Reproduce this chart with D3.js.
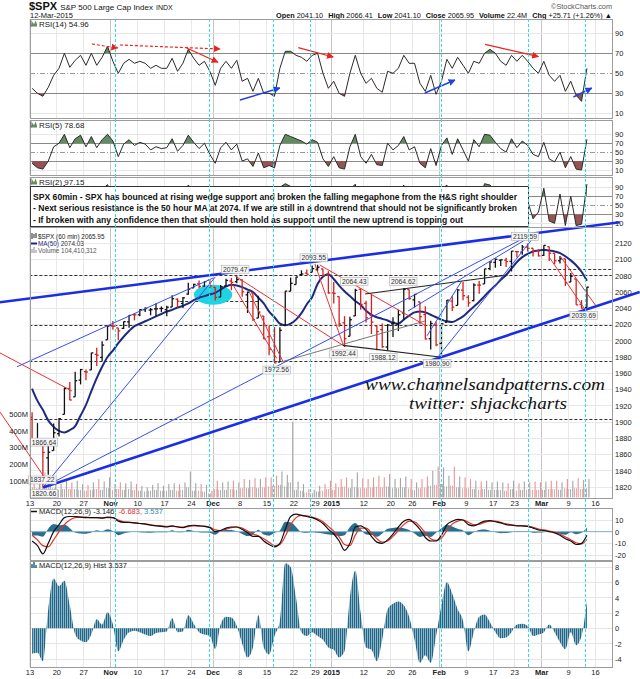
<!DOCTYPE html>
<html><head><meta charset="utf-8">
<script src="https://cdn.jsdelivr.net/npm/d3@7/dist/d3.min.js"></script>
<style>html,body{margin:0;padding:0;background:#fff}svg{display:block}</style>
</head><body>
<svg id="chart" width="640" height="679" font-family="Liberation Sans, Arial, sans-serif"></svg>
<script>
// ---------- DATA ----------
const tickIdx=[0,5,10,15,20,25,30,34,39,44,49,53,56,62,67,71,76,81,86,90,95,100,105];
const tickLab=["13","20","27","Nov","10","17","24","Dec","8","15","22","29","2015","12","20","26","Feb","9","17","23","Mar","9","16"];
const majorLab=["Nov","Dec","2015","Feb","Mar"];
const priceTicks=[1820,1840,1860,1880,1900,1920,1940,1960,1980,2000,2020,2040,2060,2080,2100,2120];
const rsiTicks=[10,30,50,70,90];
const macdTicks=[10,0,-10,-20];
const histTicks=[8,6,4,2,0,-2,-4];
const volTicks=[100,200,300,400,500];

const openP=[1905.7,1877.1,1874.2,1855.9,1864.9,1885.6,1909.4,1941.3,1931.0,1951.6,1962.0,1964.1,1983.3,1979.5,2001.2,
 2018.2,2015.8,2015.3,2023.3,2032.0,2032.0,2038.2,2037.8,2039.2,2039.7,2038.3,2041.5,2051.2,2045.9,2057.5,2065.1,2070.1,2067.4,2074.8,
 2065.8,2053.8,2067.5,2073.6,2072.8,2074.8,2056.6,2058.9,2027.9,2030.4,2005.0,1986.7,1973.8,2018.9,2061.0,2069.3,2081.5,2083.3,2084.3,2087.6,2088.5,2082.1,
 2058.9,
 2054.4,2022.2,2005.6,2030.6,2063.5,2046.1,2031.6,2018.4,2013.8,1992.3,2020.8,2020.2,2034.3,2063.0,2050.4,2047.9,2032.3,2002.5,2019.4,
 1996.7,2022.7,2048.9,2043.5,2062.3,2053.5,2049.4,2068.6,2070.0,2088.8,2096.5,2099.2,2099.3,2097.7,2109.8,2109.1,2115.3,2113.9,2110.9,
 2105.2,2115.8,2107.7,2098.5,2100.9,2072.3,2076.1,2044.7,2041.1];
const highP=[1912.1,1898.7,1874.2,1876.0,1898.2,1905.0,1942.5,1949.3,1961.9,1965.3,1964.6,1985.2,1991.4,1999.4,2018.2,
 2024.5,2016.0,2023.8,2031.6,2034.3,2038.7,2041.3,2040.3,2046.2,2042.2,2043.1,2056.1,2052.1,2053.8,2071.5,2070.2,2074.2,2073.3,2075.8,
 2065.8,2068.8,2076.3,2077.3,2079.5,2075.8,2060.6,2058.9,2055.5,2030.4,2018.7,2016.9,2016.8,2061.2,2077.9,2078.8,2086.7,2087.6,2092.7,2093.6,2088.5,2085.6,
 2072.4,
 2054.4,2030.3,2029.6,2064.1,2064.4,2049.3,2056.9,2018.4,2021.4,2020.5,2028.9,2038.3,2064.6,2063.0,2057.6,2047.9,2042.5,2024.6,2023.3,
 2021.7,2050.3,2054.7,2063.6,2072.4,2056.2,2070.9,2073.5,2088.5,2097.0,2101.3,2100.2,2102.1,2110.6,2110.1,2117.9,2119.6,2113.9,2112.7,
 2117.5,2115.8,2107.7,2104.3,2100.9,2083.5,2076.1,2050.1,2066.4];
const lowP=[1874.1,1871.8,1820.7,1835.0,1864.9,1882.3,1909.4,1926.8,1931.0,1946.3,1951.4,1964.1,1969.0,1974.8,2001.2,
 2013.7,2001.0,2014.4,2015.9,2025.1,2030.2,2035.3,2031.3,2030.4,2035.2,2030.2,2041.5,2040.4,2040.5,2056.8,2065.1,2064.8,2066.4,2065.1,
 2049.6,2053.8,2066.6,2062.3,2070.8,2054.3,2034.2,2024.3,2027.9,2002.3,1982.3,1972.6,1973.8,2018.9,2061.0,2069.3,2079.8,2081.9,2084.3,2085.8,2079.5,2057.9,
 2046.0,
 2017.3,1992.4,2005.6,2030.6,2038.3,2022.6,2008.3,1988.4,1991.5,1988.1,2004.5,2012.0,2026.4,2050.5,2041.0,2019.9,2001.5,1989.2,1993.4,
 1980.9,2022.7,2036.7,2043.5,2050.0,2041.9,2048.6,2058.0,2070.0,2086.7,2089.8,2092.2,2090.8,2085.4,2102.5,2105.9,2109.9,2103.8,2103.8,
 2104.5,2098.3,2094.5,2095.2,2067.3,2072.3,2044.2,2039.7,2041.1];
const closeP=[1874.7,1877.7,1862.5,1862.8,1886.8,1904.0,1941.3,1927.1,1950.8,1964.6,1961.6,1985.1,1982.3,1994.7,2018.1,
 2017.8,2012.1,2023.6,2031.2,2031.9,2038.3,2039.7,2038.3,2039.3,2039.8,2041.3,2051.8,2048.7,2052.8,2063.5,2069.4,2067.0,2072.8,2067.6,
 2053.4,2066.6,2074.3,2071.9,2075.4,2060.3,2059.8,2026.1,2035.3,2002.3,1989.6,1972.7,2012.9,2061.2,2070.7,2078.5,2082.2,2081.9,2088.8,2090.6,2080.4,2058.9,
 2058.2,
 2020.6,2002.6,2025.9,2062.1,2044.8,2028.3,2023.0,2011.3,1992.7,2019.4,2022.6,2032.1,2063.2,2051.8,2057.1,2029.6,2002.2,2021.3,1995.0,
 2020.9,2050.0,2041.5,2062.5,2055.5,2046.7,2068.6,2068.5,2088.5,2097.0,2100.3,2099.7,2097.5,2110.3,2109.7,2115.5,2113.9,2110.7,2104.5,
 2117.4,2107.8,2098.5,2101.0,2071.3,2079.4,2044.2,2040.2,2066.0];
const ma50=[1941,1926,1915,1902,1894,1889,1887,1890,1895,1908,1921,1938,1954,1968,1980,
 1988,1997,2005,2012,2018,2021,2024,2027,2030,2033,2036,2038,2041,2043,2046,2050,2053,2055,2057,
 2059,2063,2067,2069,2068,2066,2063,2060,2053,2046,2036,2029,2021,2019,2021,2026,2034,2045,2054,2070,2079,2082,
 2076,
 2068,2061,2055,2049,2044,2037,2032,2029,2027,2025,2022,2021,2026,2031,2035,2036,2035,2032,2029,
 2026,2024,2023,2026,2030,2036,2042,2048,2055,2062,2068,2075,2081,2089,2097,2103,2107,2110,2111,
 2112,2111,2110,2108,2104,2099,2093,2085,2074.03];
const volPeak=[95,110,150,130,110,80,100,90,100,80,75,90,110,95,120,
 80,90,85,95,80,70,60,75,85,70,80,85,80,90,155,85,80,75,40,
 100,90,95,100,90,110,105,115,110,120,120,130,155,135,453,95,80,50,45,70,80,100,
 85,
 110,120,110,150,115,110,120,130,120,140,110,115,125,110,90,110,125,160,184,
 180,130,184,125,120,110,100,95,100,90,95,90,85,100,85,95,90,95,90,
 95,100,100,90,110,100,115,105,110];
const volBase=[60,55,80,70,55,45,50,50,50,45,40,45,50,45,55,
 45,50,45,50,45,40,35,40,45,40,40,45,40,45,60,40,40,35,25,
 50,45,45,50,45,55,55,60,55,60,65,70,75,65,90,45,40,30,25,35,40,50,
 45,
 60,65,55,60,55,55,60,65,60,65,55,55,60,55,45,55,60,70,75,
 80,65,70,60,55,55,50,45,50,45,45,45,40,50,40,45,45,45,45,
 45,50,50,45,55,50,55,50,55];
const rsi14=[35,30,27,36,48,55,70,56,63,68,58,70,58,66,77,
 62,50,60,64,60,62,60,55,58,55,55,65,52,60,74,65,58,62,52,
 38,55,62,55,63,42,45,32,45,30,30,27,55,72,72,68,66,62,68,70,50,35,
 42,
 30,27,50,68,50,40,45,35,31,52,50,55,68,60,60,40,32,48,29,
 42,64,55,66,58,50,62,60,70,74,70,62,58,68,62,68,62,55,50,
 62,48,42,48,32,42,28,22,54.96];
const rsi5=[25,15,12,30,62,70,90,60,80,88,62,85,60,78,90,
 75,40,68,78,65,72,68,55,62,58,60,80,52,65,88,72,58,70,45,
 25,60,72,55,68,30,35,18,48,15,20,15,65,90,85,80,75,68,78,72,35,18,
 40,
 15,12,62,90,40,25,45,22,20,70,55,65,85,55,62,25,15,58,20,
 65,82,45,80,55,30,78,62,90,88,72,58,50,80,60,75,65,45,40,
 72,35,28,50,15,40,12,10,78.68];
const rsi2=[20,10,5,40,85,80,95,30,85,92,45,92,40,85,96,
 70,20,80,88,50,85,70,30,60,50,55,92,30,75,95,80,40,85,25,
 8,75,88,40,80,15,35,5,60,5,10,5,90,98,92,90,80,60,88,80,15,5,
 45,
 5,5,85,97,20,10,50,15,10,88,55,75,95,40,70,10,5,70,10,
 85,95,30,92,45,15,90,60,98,95,80,50,35,92,50,85,60,20,35,
 88,15,10,75,5,70,5,8,97.15];
const macdLine=[-8,-12,-19,-10,0,6,12,13,13,12.5,12,12,12,11.5,12.5,
 12,9,8,8,7.5,7,6.5,5.5,5,4.5,4,5,4,3.5,5,5.5,5,4.5,3.5,
 0,1,3,4,4,2,-1,-4,-4,-8,-11,-13,-10,2,13,15,14,13,12,10,7,2,
 -2,
 -8,-16,-10,4,5,2,-4,-9,-10,-7,-2,4,9,10.5,7,2,-5,-8,-8,
 -3,6,9,10.5,10,6,5,7,9,9.5,8.5,7.5,6,5.5,5,5,4.5,3,1.5,
 1,0,-1,-3,-6,-8,-11,-10,-3.146];
const macdSignal=[-3,-7,-12,-13,-7,0,6,10,12,12.5,12.5,12,12,12,12,
 12,10,8.5,8,7.5,7,6.8,6,5.3,5,4.5,4.5,4.3,4,4.3,5,5,4.8,4,
 1.5,1,2,3.5,4,3,0.5,-2,-3.5,-6,-9,-12,-11,-4,6,12,14,13.5,12.5,11,8.5,4.5,
 0.5,
 -4.5,-11,-12,-3,3,3,-1,-6,-9,-8,-4,1,6,9,8.5,4.5,-1,-6,-7.5,
 -5.5,1,6.5,9,10,8,6,6.3,8,9,9,8,6.8,6,5.3,5,4.8,3.8,2.3,
 1.5,0.5,-0.5,-2,-4.5,-7,-9.5,-10.5,-6.683];
const macdHist=[-3.3,-3.2,-4.3,2.5,6.5,5.5,6.2,3,-0.8,-1.6,-1.8,-0.8,1.2,0.5,2.1,
 0.5,-3,-1.5,-0.5,-0.3,-0.5,-0.8,-1,-0.6,-0.5,-0.4,1.3,-0.5,-0.4,1.7,0.6,-0.5,-0.8,-1,
 -2.7,0.5,1.5,1.4,0.3,-2,-3.8,-2.5,1.7,-2.5,-3.4,-1,1,8.5,8,4,-0.5,-1,-0.5,-1,-1.5,-2.5,
 -2.8,
 -3.8,-3,4,7.5,2,-2.5,-2.8,-4.3,-1.5,2.5,3.2,3.5,3,1.5,-1.5,-4.5,-3.5,-4.5,-1,
 3,6,4.5,2.5,1,-3,-0.5,1.5,1.8,0.8,-0.5,-1.3,-1.2,-0.5,0.5,0.6,0.3,-1,-0.8,
 -0.5,0.5,-0.5,-1.8,-2.7,-0.5,-2.2,-1,3.537];

// annotations (day index, price) / (day index, rsi)
const thickLines=[[[-5.46,2047.4],[109.6,2145.9]],[[2.52,1819.4],[113.3,2060]]];
const thinBlue=[[[2.52,1819.4],[34.5,2078.5]],[[2.52,1819.4],[93.3,2131.5]],[[-2.3,1968],[34.1,2077.3]],
 [[70.3,2036.7],[93.5,2130.2]],[[73.8,2006],[80.3,2074]],[[75.9,1980.5],[94.4,2133.9]]];
const redLines=[[[-5.46,1985],[7.9,1938.2]],[[-5.46,1912.3],[2.9,1830.8]],[[37.8,2068.7],[45.9,1978.4]],
 [[40.9,2058.8],[47.1,1973.9]],[[38.2,2079.7],[58.2,1994.4]],[[53,2094.5],[58.2,1996]],[[53.9,2093.3],[73.4,2019.4]],
 [[96.6,2101.9],[103.1,2039.1]],[[98.5,2104.4],[105.2,2042.8]]];
const blackLines=[[[62.3,2057.6],[88.7,2081]],[[58.2,1994.4],[76.2,1980]]];
const grayLines=[[[46.7,1973.9],[73.4,2024.3]]];
const hDashed=[[2080.5,0,108.1],[2049,28,42.8],[2020,0,108.1],[1974.5,0,108.1],[1904,0,108.1],[2088,92.6,108.1]];
const ellipse={i:34.1,p:2056.6,ri:3.55,rp:12.3};
const priceLabels=[["2079.47",38.2,2079.47,-1],["2093.55",52.8,2093.55,-1],["2064.43",60.3,2064.43,-1],["2064.62",69.4,2064.62,-1],
 ["1992.44",58.3,1992.44,1],["1988.12",65.7,1988.12,1],["1972.56",45.9,1972.56,1],["1980.90",75.7,1980.90,1],
 ["2119.59",92,2119.59,-1],["2039.69",102.9,2039.69,1],["1866.64",2.7,1866.64,-1],["1837.22",2.4,1837.22,1],["1820.66",2.7,1820.66,1]];
const rsiRedArrows=[[[11.6,79.3],[16.4,75.3],1],[[16.8,78.3],[35.4,74.3],1],[[29.2,75.3],[35,61],0],[[49.9,75.6],[56.4,66.3],0],[[84.6,79],[94.5,66.6],0]];
const rsiBlueArrows=[[[39.1,23.3],[46.5,35.3]],[[73.4,30.3],[79,43.3]],[[101,26.3],[104.4,35.3]]];
const cyanMarks=[15.9,33.4,45.3,52.1,76.5,92.6,103.1];
const noteLines=["SPX 60min - SPX has bounced at rising wedge support and broken the falling megaphone from the H&S right shoulder",
 "- Next serious resistance is the 50 hour MA at 2074. If we are still in a downtrend that should not be significantly broken",
 "- If broken with any confidence then that should then hold as support until the new uptrend is topping out"];

// ---------- LAYOUT ----------
const FONT="Liberation Sans, Arial, sans-serif";
const svg=d3.select("#chart");
const L=30,R=612;
const days=d3.range(closeP.length);
const x=d3.scaleLinear().domain([0,105]).range([29.4,595]);
const cx=i=>x(i+0.5);
const P={r14:[19,118],r5:[120,175],r2:[177,227],main:[227,498],macd:[508,560],hist:[561,667]};
const yR14=d3.scaleLinear().domain([10,90]).range([113.3,33.3]);
const yR5=d3.scaleLinear().domain([10,90]).range([170,134.3]);
const yR2=d3.scaleLinear().domain([10,90]).range([223.3,187.3]);
const yP=d3.scaleLinear().domain([1820,2120]).range([487,243.3]);
const yV=d3.scaleLinear().domain([0,500]).range([497.4,413.9]);
const yM=d3.scaleLinear().domain([-20,10]).range([555,520]);
const yH=d3.scaleLinear().domain([-4,8]).range([659,567]);

const defs=svg.append("defs");
function clip(id,x0,y0,w,h){defs.append("clipPath").attr("id",id).append("rect").attr("x",x0).attr("y",y0).attr("width",w).attr("height",h);}
function pat(id,w,bw,col){const p=defs.append("pattern").attr("id",id).attr("patternUnits","userSpaceOnUse").attr("width",w).attr("height",8);
 p.append("rect").attr("width",bw).attr("height",8).attr("fill",col);}
pat("vUp",2,1,"#b2b2b2");pat("vDn",2,1,"#eba9a9");pat("hPat",2,1.5,"#1f688a");
function marker(id,col){defs.append("marker").attr("id",id).attr("viewBox","0 0 10 10").attr("refX",9).attr("refY",5)
 .attr("markerWidth",7).attr("markerHeight",7).attr("markerUnits","userSpaceOnUse").attr("orient","auto")
 .append("path").attr("d","M0,0 L10,5 L0,10 z").attr("fill",col);}
marker("arRed","#ee2020");marker("arBlue","#2040e0");

function hl(g,y,stroke,dash){g.append("line").attr("x1",L).attr("x2",R).attr("y1",y).attr("y2",y).attr("stroke",stroke)
 .attr("stroke-dasharray",dash||null).attr("shape-rendering","crispEdges");}
function panel([top,bottom]){
 const g=svg.append("g");
 g.append("rect").attr("x",L).attr("y",top).attr("width",R-L).attr("height",bottom-top).attr("fill","#fff");
 tickIdx.forEach((t,k)=>g.append("line").attr("x1",Math.round(x(t))+0.5).attr("x2",Math.round(x(t))+0.5).attr("y1",top).attr("y2",bottom)
   .attr("stroke",majorLab.includes(tickLab[k])?"#c4c4c4":"#e8e8e8"));
 return g;
}
function border([top,bottom]){svg.append("rect").attr("x",L+0.5).attr("y",top+0.5).attr("width",R-L).attr("height",bottom-top)
 .attr("fill","none").attr("stroke","#9c9c9c");}
function axisR(scale,vals){
 const g=svg.append("g").attr("transform",`translate(${R},0)`)
  .call(d3.axisRight(scale).tickValues(vals).tickSize(0).tickPadding(3).tickFormat(d=>String(d)));
 g.select(".domain").remove();
 g.attr("font-size",7.5).attr("font-family",FONT);g.selectAll("text").attr("fill","#222");
}
function axisB(y0){
 const g=svg.append("g").attr("transform",`translate(0,${y0})`)
  .call(d3.axisBottom(x).tickValues(tickIdx).tickSize(0).tickPadding(3).tickFormat((d,i)=>tickLab[i]));
 g.select(".domain").remove();
 g.attr("font-size",7.5).attr("font-family",FONT);
 g.selectAll("text").attr("fill","#222").attr("font-weight",(d,i)=>majorLab.includes(tickLab[i])?"bold":"normal");
}
function rsiIcon(g,x0,yb){g.append("path").attr("d",`M${x0},${yb} l1.5,-5 l1.5,3 l1.5,-4 l1.5,4 l0,2 z`).attr("fill","#5f8d5f");
 g.append("path").attr("d",`M${x0},${yb-6} l0,6`).attr("stroke","#555");}

// ---------- HEADER ----------
const hdr=svg.append("text").attr("x",29).attr("y",10).attr("fill","#111");
hdr.append("tspan").attr("font-size",11).attr("font-weight","bold").text("$SPX");
hdr.append("tspan").attr("font-size",8).attr("dx",3).text("S&P 500 Large Cap Index");
hdr.append("tspan").attr("font-size",7).attr("dx",3).text("INDX");
svg.append("text").attr("x",30).attr("y",18).attr("font-size",7.5).attr("fill","#111").text("12-Mar-2015");
svg.append("text").attr("x",R).attr("y",8.5).attr("text-anchor","end").attr("font-size",7.3).attr("fill","#555").text("©StockCharts.com");
const hr=svg.append("text").attr("x",R).attr("y",18).attr("text-anchor","end").attr("font-size",7.3).attr("fill","#111");
[["Open","2041.10"],["High","2066.41"],["Low","2041.10"],["Close","2065.95"],["Volume","22.4M"],["Chg","+25.71 (+1.26%) ▲"]].forEach((p,k)=>{
 hr.append("tspan").attr("font-weight","bold").attr("dx",k?5:0).text(p[0]);hr.append("tspan").text(" "+p[1]);});

// ---------- RSI PANELS ----------
function rsiPanel(id,vals,y,box,label){
 const g=panel(box);const [top,bottom]=box;
 [10,90].forEach(v=>hl(g,y(v),"#e6e6e6"));
 hl(g,y(70),"#8c8c8c");hl(g,y(30),"#8c8c8c");hl(g,y(50),"#9a9a9a","5,2,1,2");
 clip(id+"A",L,top,R-L,y(70)-top);clip(id+"B",L,y(30),R-L,bottom-y(30));clip(id+"C",L,top,R-L,bottom-top);
 g.append("path").datum(vals).attr("d",d3.area().x((d,i)=>cx(i)).y0(y(70)).y1(d=>y(d))).attr("fill","#5f8d5f").attr("clip-path",`url(#${id}A)`);
 g.append("path").datum(vals).attr("d",d3.area().x((d,i)=>cx(i)).y0(y(30)).y1(d=>y(d))).attr("fill","#955454").attr("clip-path",`url(#${id}B)`);
 g.append("path").datum(vals).attr("d",d3.line().x((d,i)=>cx(i)).y(d=>y(d))).attr("fill","none").attr("stroke","#2a2a2a").attr("stroke-width",1).attr("clip-path",`url(#${id}C)`);
 axisR(y,rsiTicks);border(box);
 rsiIcon(svg,31,top+7.5);
 svg.append("text").attr("x",39).attr("y",top+7.5).attr("font-size",8).attr("fill","#222").text(label);
 return g;
}
rsiPanel("r14",rsi14,yR14,P.r14,"RSI(14) 54.96");
rsiPanel("r5",rsi5,yR5,P.r5,"RSI(5) 78.68");
rsiPanel("r2",rsi2,yR2,P.r2,"RSI(2) 97.15");
clip("r14D",L,P.r14[0],R-L,P.r14[1]-P.r14[0]);
const ga=svg.append("g").attr("clip-path","url(#r14D)");
rsiRedArrows.forEach(a=>ga.append("line").attr("x1",x(a[0][0])).attr("y1",yR14(a[0][1])).attr("x2",x(a[1][0])).attr("y2",yR14(a[1][1]))
 .attr("stroke","#ee2020").attr("stroke-width",1.2).attr("stroke-dasharray",a[2]?"3,2":null).attr("marker-end","url(#arRed)"));
rsiBlueArrows.forEach(a=>ga.append("line").attr("x1",x(a[0][0])).attr("y1",yR14(a[0][1])).attr("x2",x(a[1][0])).attr("y2",yR14(a[1][1]))
 .attr("stroke","#2040e0").attr("stroke-width",1.4).attr("marker-end","url(#arBlue)"));

// ---------- MAIN PANEL ----------
const gm=panel(P.main);
priceTicks.forEach(v=>hl(gm,yP(v),"#e8e8e8"));
clip("mainC",L,P.main[0],R-L,P.main[1]-P.main[0]);
const up=i=>closeP[i]>=openP[i];
const gv=svg.append("g").attr("clip-path","url(#mainC)");
gv.selectAll("rect.b").data(days).join("rect").attr("x",i=>x(i)+0.3).attr("width",3.8)
 .attr("y",i=>yV(volBase[i])).attr("height",i=>yV(0)-yV(volBase[i])).attr("fill",i=>up(i)?"url(#vUp)":"url(#vDn)");
gv.selectAll("rect.p").data(days).join("rect").attr("x",i=>x(i)+4.2).attr("width",1.1)
 .attr("y",i=>yV(volPeak[i])).attr("height",i=>yV(0)-yV(volPeak[i])).attr("fill",i=>up(i)?"#a4a4a4":"#e49696");
hDashed.forEach(d=>gv.append("line").attr("x1",x(d[1])).attr("x2",x(d[2])).attr("y1",Math.round(yP(d[0]))+0.5).attr("y2",Math.round(yP(d[0]))+0.5)
 .attr("stroke","#333").attr("stroke-dasharray","3,2"));
gv.append("ellipse").attr("cx",x(ellipse.i)).attr("cy",yP(ellipse.p)).attr("rx",x(ellipse.ri)-x(0)).attr("ry",yP(0)-yP(ellipse.rp)).attr("fill","#1fd3e3");
gv.append("path").datum(ma50).attr("d",d3.line().x((d,i)=>cx(i)).y(d=>yP(d)).curve(d3.curveMonotoneX))
 .attr("fill","none").attr("stroke","#1c2a80").attr("stroke-width",2);
const gb=gv.append("g").attr("stroke-width",1.3);
gb.selectAll("line.hl").data(days).join("line").attr("x1",cx).attr("x2",cx).attr("y1",i=>yP(highP[i])).attr("y2",i=>yP(lowP[i])).attr("stroke",i=>up(i)?"#111":"#d81e1e");
gb.selectAll("line.o").data(days).join("line").attr("x1",i=>cx(i)-2).attr("x2",cx).attr("y1",i=>yP(openP[i])).attr("y2",i=>yP(openP[i])).attr("stroke",i=>up(i)?"#111":"#d81e1e");
gb.selectAll("line.c").data(days).join("line").attr("x1",cx).attr("x2",i=>cx(i)+2).attr("y1",i=>yP(closeP[i])).attr("y2",i=>yP(closeP[i])).attr("stroke",i=>up(i)?"#111":"#d81e1e");
clip("trendC",0,219,640,P.main[1]-219);
const gt=svg.append("g").attr("clip-path","url(#trendC)");
const tl=d3.line().x(d=>x(d[0])).y(d=>yP(d[1]));
const drawSet=(set,col,w)=>set.forEach(s=>gt.append("path").datum(s).attr("d",tl).attr("stroke",col).attr("stroke-width",w).attr("fill","none"));
drawSet(grayLines,"#777",1);drawSet(redLines,"#ee3030",1);drawSet(blackLines,"#222",1.2);
drawSet(thinBlue,"#3a4ef0",1);drawSet(thickLines,"#1a2ee6",2.6);
const gl=svg.append("g").attr("font-size",6.8).attr("font-family",FONT);
priceLabels.forEach(d=>{
 const cxl=x(d[1]),cyl=yP(d[2])+d[3]*7;
 const t=gl.append("text").attr("x",cxl).attr("y",cyl+2.4).attr("text-anchor","middle").attr("fill","#333").text(d[0]);
 const w=t.node().getComputedTextLength()+3;
 gl.insert("rect","text").attr("x",cxl-w/2).attr("y",cyl-4).attr("width",w).attr("height",8).attr("fill","#f6f6f6").attr("stroke","#b0b0b0").attr("stroke-width",0.6);
});
axisR(yP,priceTicks);
{const g=svg.append("g").attr("transform",`translate(${L-1},0)`).call(d3.axisLeft(yV).tickValues(volTicks).tickSize(0).tickPadding(1).tickFormat(d=>d+"M"));
 g.select(".domain").remove();g.attr("font-size",7.5).attr("font-family",FONT);g.selectAll("text").attr("fill","#222");}
border(P.main);
// legend
{const g=svg.append("g").attr("font-size",6.4);
 g.append("path").attr("d","M32,233v6M34,234v4M36,233v5").attr("stroke","#222");
 g.append("text").attr("x",38).attr("y",238.5).attr("fill","#222").text("$SPX (60 min) 2065.95");
 g.append("line").attr("x1",31).attr("x2",37).attr("y1",243.5).attr("y2",243.5).attr("stroke","#1c2a80").attr("stroke-width",2);
 const t=g.append("text").attr("x",38).attr("y",245.8);t.append("tspan").attr("fill","#1c2a80").text("MA(50)");t.append("tspan").attr("fill","#333").text(" 2074.03");
 g.append("path").attr("d","M32,253v-4M34,253v-6M36,253v-3").attr("stroke","#888");
 g.append("text").attr("x",38).attr("y",253.1).attr("fill","#555").text("Volume 104,410,312");}
// watermark
svg.append("text").attr("x",365).attr("y",390).attr("font-family","Liberation Serif, serif").attr("font-style","italic").attr("font-size",16)
 .attr("fill","#111").attr("textLength",240).attr("lengthAdjust","spacingAndGlyphs").text("www.channelsandpatterns.com");
svg.append("text").attr("x",409).attr("y",408.5).attr("font-family","Liberation Serif, serif").attr("font-style","italic").attr("font-size",16)
 .attr("fill","#111").attr("textLength",158).attr("lengthAdjust","spacingAndGlyphs").text("twitter: shjackcharts");
axisB(P.main[1]);

// ---------- MACD ----------
const gmc=panel(P.macd);
macdTicks.forEach(v=>hl(gmc,yM(v),"#e6e6e6"));
clip("macdC",L,P.macd[0],R-L,P.macd[1]-P.macd[0]);
const gmm=svg.append("g").attr("clip-path","url(#macdC)");
gmm.append("path").datum(macdHist).attr("d",d3.area().x((d,i)=>cx(i)).y0(yM(0)).y1(d=>yM(d)).curve(d3.curveMonotoneX)).attr("fill","#2a6f8e");
gmm.append("line").attr("x1",L).attr("x2",R).attr("y1",yM(0)).attr("y2",yM(0)).attr("stroke","#7fb2cc");
gmm.append("path").datum(macdSignal).attr("d",d3.line().x((d,i)=>cx(i)).y(d=>yM(d)).curve(d3.curveMonotoneX)).attr("fill","none").attr("stroke","#e8302a").attr("stroke-width",1.2);
gmm.append("path").datum(macdLine).attr("d",d3.line().x((d,i)=>cx(i)).y(d=>yM(d)).curve(d3.curveMonotoneX)).attr("fill","none").attr("stroke","#111").attr("stroke-width",1.2);
axisR(yM,macdTicks);border(P.macd);
{const t=svg.append("text").attr("x",39).attr("y",514).attr("font-size",7.5);
 svg.append("line").attr("x1",31).attr("x2",37).attr("y1",511.5).attr("y2",511.5).attr("stroke","#111").attr("stroke-width",1.5);
 t.append("tspan").attr("fill","#222").text("MACD(12,26,9) -3.146, ");t.append("tspan").attr("fill","#e8302a").text("-6.683, ");t.append("tspan").attr("fill","#2a8fb0").text("3.537");}

// ---------- HIST ----------
const gh=panel(P.hist);
histTicks.forEach(v=>hl(gh,yH(v),"#e6e6e6"));
clip("histC",L,P.hist[0],R-L,P.hist[1]-P.hist[0]);
svg.append("g").attr("clip-path","url(#histC)").append("path").datum(macdHist)
 .attr("d",d3.area().x((d,i)=>cx(i)).y0(yH(0)).y1(d=>yH(d)).curve(d3.curveMonotoneX)).attr("fill","url(#hPat)");
axisR(yH,histTicks);border(P.hist);
svg.append("path").attr("d","M32,568v-4M34,568v-6M36,568v-3").attr("stroke","#21698b").attr("stroke-width",1.5);
svg.append("text").attr("x",39).attr("y",568).attr("font-size",7.5).attr("fill","#222").text("MACD(12,26,9) Hist 3.537");
axisB(P.hist[1]);

// ---------- NOTE BOX ----------
svg.append("rect").attr("x",30.5).attr("y",186.5).attr("width",498).attr("height",40).attr("fill","#fff").attr("stroke","#333");
const lens=[484,484,430];
noteLines.forEach((s,k)=>svg.append("text").attr("x",33).attr("y",199.5+k*11.5).attr("font-size",9.5).attr("font-weight","bold")
 .attr("fill","#111").attr("textLength",lens[k]).attr("lengthAdjust","spacingAndGlyphs").text(s));

// ---------- CYAN MARKERS ----------
cyanMarks.forEach(i=>svg.append("line").attr("x1",Math.round(x(i))+0.5).attr("x2",Math.round(x(i))+0.5).attr("y1",19).attr("y2",667)
 .attr("stroke","#30dce6").attr("stroke-dasharray","3,2"));
</script>
</body></html>
